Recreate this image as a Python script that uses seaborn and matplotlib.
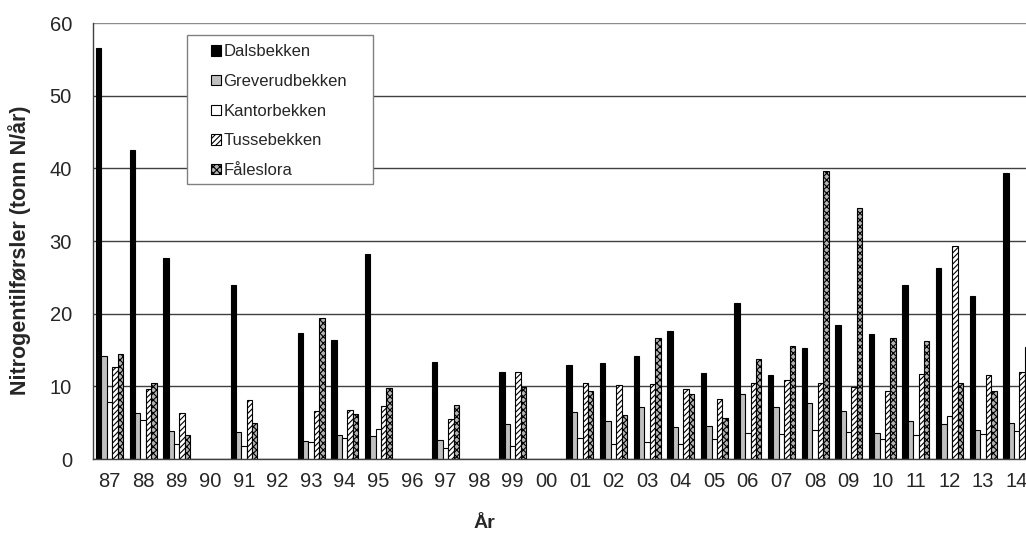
import numpy as np
import pandas as pd
import matplotlib
matplotlib.use("Agg")
import matplotlib.pyplot as plt
from matplotlib.patches import Patch, Rectangle
from matplotlib.legend_handler import HandlerPatch
import seaborn as sns

nan = np.nan

years = ['87', '88', '89', '90', '91', '92', '93', '94', '95', '96', '97', '98', '99', '00',
         '01', '02', '03', '04', '05', '06', '07', '08', '09', '10', '11', '12', '13', '14']
streams = ['Dalsbekken', 'Greverudbekken', 'Kantorbekken', 'Tussebekken', 'Fåleslora']

dalsbekken = [56.5, 42.5, 27.6, nan, 23.9, nan, 17.3, 16.4, 28.2, nan, 13.4, nan, 12.0, nan,
              12.9, 13.2, 14.2, 17.6, 11.9, 21.5, 11.5, 15.3, 18.4, 17.2, 23.9, 26.3, 22.4, 39.3]
greverudbekken = [14.2, 6.3, 3.9, nan, 3.7, nan, 2.5, 3.3, 3.2, nan, 2.6, nan, 4.8, nan,
                  6.5, 5.2, 7.1, 4.4, 4.5, 8.9, 7.1, 7.7, 6.6, 3.6, 5.3, 4.8, 4.0, 5.0]
kantorbekken = [7.8, 5.4, 2.0, nan, 1.8, nan, 2.3, 2.9, 4.2, nan, 1.5, nan, 1.8, nan,
                2.9, 2.1, 2.3, 2.1, 2.8, 3.6, 3.4, 4.0, 3.7, 2.8, 3.3, 5.9, 3.4, 3.8]
tussebekken = [12.7, 9.7, 6.4, nan, 8.1, nan, 6.6, 6.7, 7.3, nan, 5.5, nan, 12.0, nan,
               10.5, 10.2, 10.3, 9.7, 8.3, 10.5, 10.9, 10.5, 9.9, 9.3, 11.7, 29.3, 11.5, 12.0]
faleslora = [14.4, 10.5, 3.3, nan, 4.9, nan, 19.4, 6.2, 9.8, nan, 7.5, nan, 9.9, nan,
             9.3, 6.1, 16.6, 9.0, 5.6, 13.7, 15.6, 39.7, 34.6, 16.7, 16.3, 10.4, 9.3, 15.4]

wide = pd.DataFrame({'year': years,
                     'Dalsbekken': dalsbekken,
                     'Greverudbekken': greverudbekken,
                     'Kantorbekken': kantorbekken,
                     'Tussebekken': tussebekken,
                     'Fåleslora': faleslora})
df = wide.melt(id_vars='year', var_name='stream', value_name='value').dropna()

sns.set_style("white")
plt.rcParams['font.family'] = ['Liberation Sans', 'DejaVu Sans']
plt.rcParams['hatch.linewidth'] = 0.8

facecolors = ['black', '#c0c0c0', 'white', 'white', '#b4b4b4']
hatches = [None, None, None, '//////', 'xxxxx']
hatchcolors = [None, None, None, 'black', '#555555']

fig = plt.figure(figsize=(10.26, 5.34), dpi=100)
# axes runs a little past the right edge, like the clipped original
ax = fig.add_axes([0.0904, 0.1404, 0.9169, 0.8165])

sns.barplot(data=df, x='year', y='value', hue='stream', order=years, hue_order=streams,
            palette=dict(zip(streams, facecolors)), saturation=1, width=0.8, errorbar=None,
            edgecolor='black', linewidth=0.8, legend=False, ax=ax)


def style_patch(p, h, hc):
    p.set_hatch(h)
    if hasattr(p, 'set_hatchcolor'):
        p.set_hatchcolor(hc)


for cont, h, hc in zip(ax.containers, hatches, hatchcolors):
    if h:
        for bar in cont:
            style_patch(bar, h, hc)

ax.set_xlim(-0.5, 27.5)
ax.set_ylim(0, 60)
ax.set_yticks(range(0, 61, 10))
ax.yaxis.grid(True, color='#404040', linewidth=1)
ax.get_ygridlines()[-1].set_color('#8c8c8c')
ax.set_axisbelow(True)

# x tick marks on category boundaries, labels in the middle
ax.set_xticks(range(len(years)))
ax.set_xticklabels(years)
ax.set_xticks(np.arange(-0.5, 28, 1), minor=True)
ax.tick_params(axis='x', which='major', length=0, pad=9, labelsize=14.5)
ax.tick_params(axis='x', which='minor', length=5, width=1, color='#404040', direction='out')
ax.tick_params(axis='y', length=5, width=1, color='#404040', direction='out', labelsize=14.5, pad=10)

for side in ['top', 'right']:
    ax.spines[side].set_visible(False)
for side in ['left', 'bottom']:
    ax.spines[side].set_color('#404040')
    ax.spines[side].set_linewidth(1)

ax.set_xlabel('År', fontsize=14, fontweight='bold')
ax.xaxis.label.set_va('center')
ax.xaxis.set_label_coords(0.416, -0.149)
ax.set_ylabel('Nitrogentilførsler (tonn N/år)', fontsize=15.5, fontweight='bold')
ax.yaxis.label.set_va('center')
ax.yaxis.set_label_coords(-0.0778, 0.479)


def small_square(legend, orig_handle, xdescent, ydescent, width, height, fontsize):
    s = 0.62 * fontsize
    return Rectangle((-xdescent + width - s, -ydescent + (height - s) / 2), s, s)


handles = []
for c, h, hc in zip(facecolors, hatches, hatchcolors):
    p = Patch(facecolor=c, edgecolor='black', linewidth=0.8)
    if h:
        style_patch(p, h, hc)
    handles.append(p)

leg = ax.legend(handles, streams, loc='upper left', bbox_to_anchor=(0.1002, 0.968), borderaxespad=0,
                fontsize=12, handlelength=1.6, handleheight=0.7, handletextpad=0.15,
                labelspacing=0.88, borderpad=0.44, frameon=False,
                handler_map={Patch: HandlerPatch(patch_func=small_square)})

# legend frame drawn as a plain box, wider than the entries like the original
ax.add_patch(Rectangle((0.1002, 0.6307), 0.1977, 0.3418, transform=ax.transAxes,
                       facecolor='white', edgecolor='#808080', linewidth=1, zorder=4))
leg.set_zorder(5)

fig.savefig('out.png', dpi=100)
